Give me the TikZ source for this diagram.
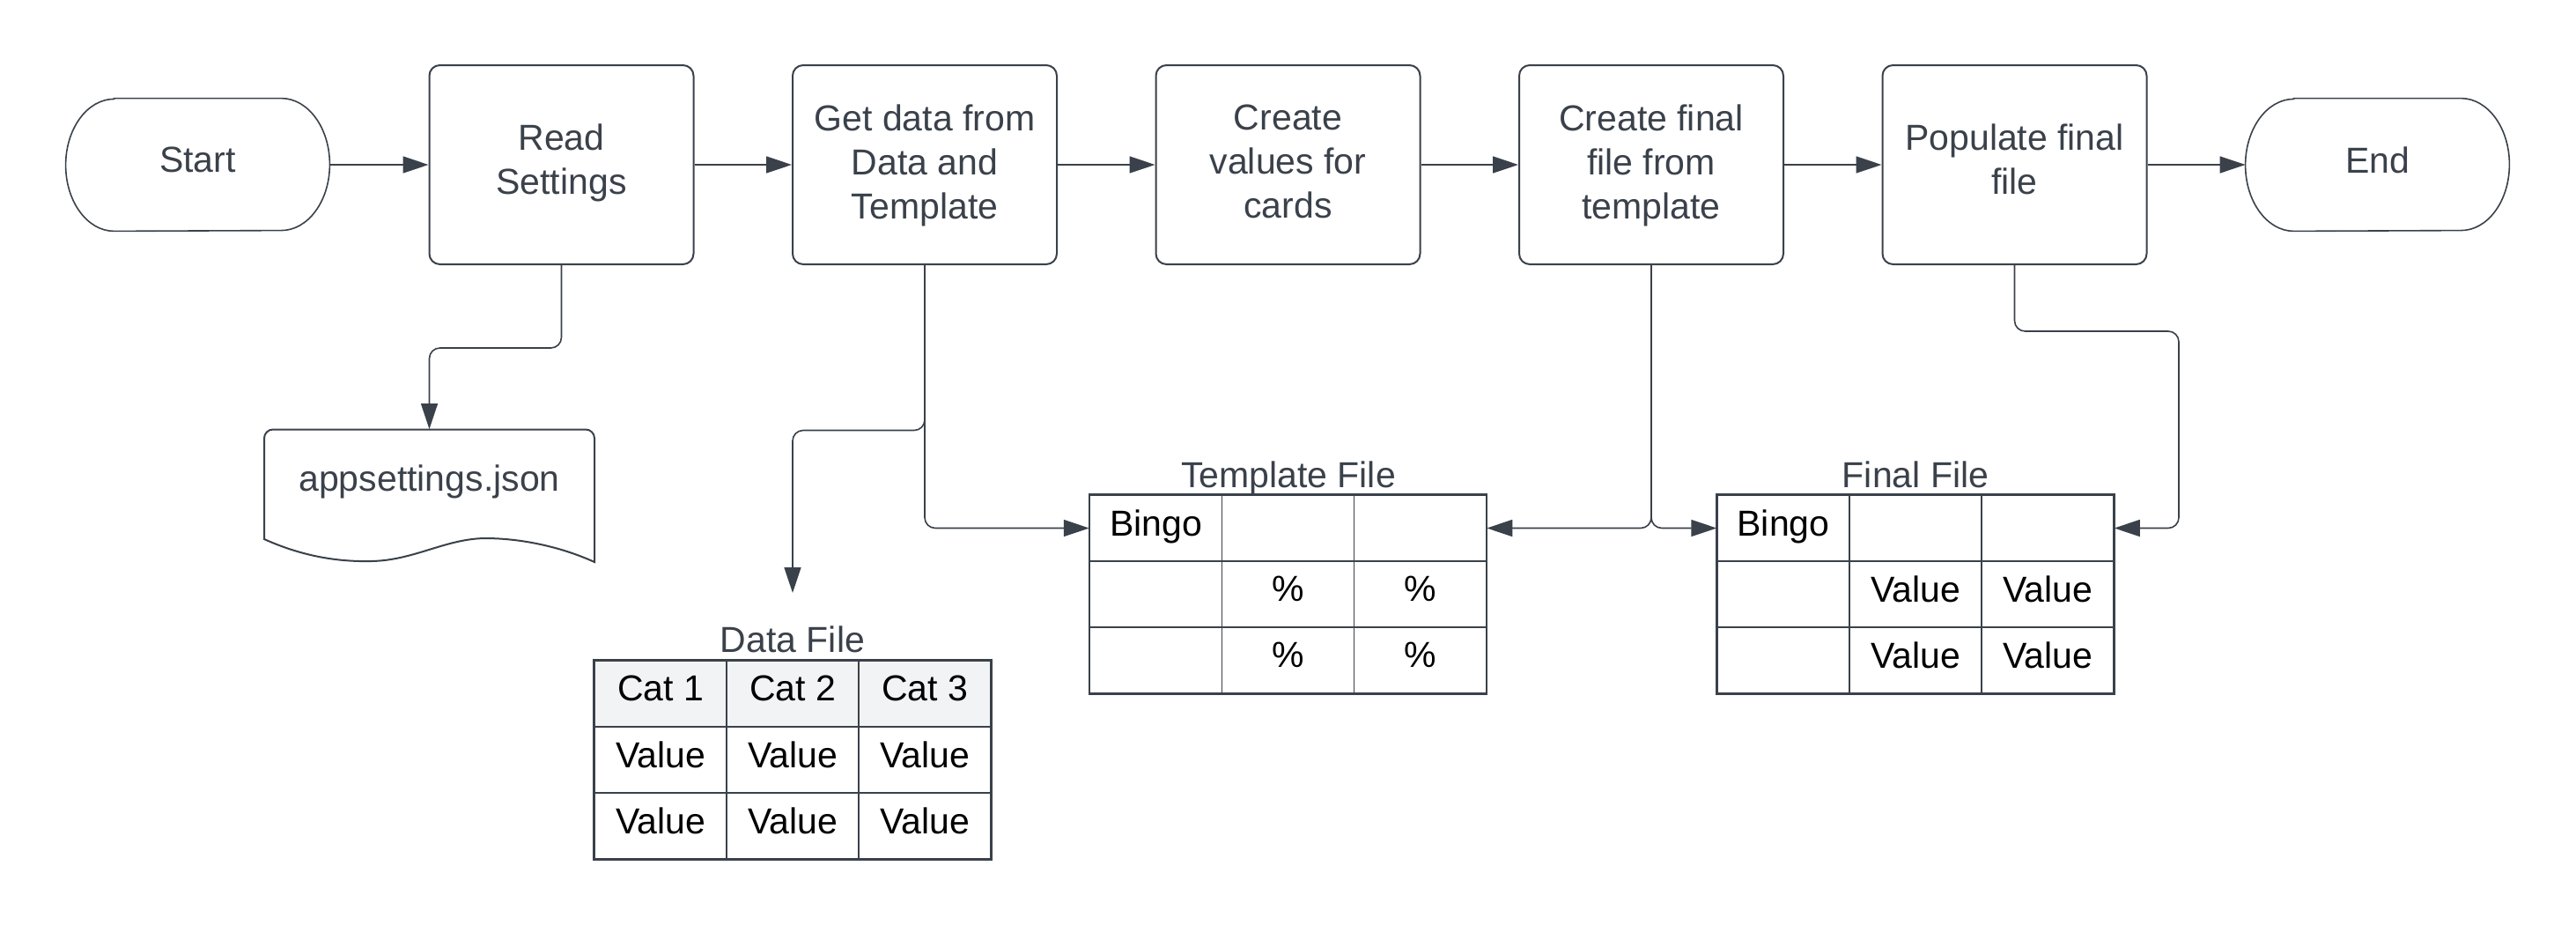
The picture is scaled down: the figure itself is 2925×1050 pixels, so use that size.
\documentclass[tikz,border=0pt]{standalone}
\usepackage{fontspec}
\setmainfont{Liberation Sans}
\usetikzlibrary{arrows.meta}
\definecolor{ink}{HTML}{3A414A}
\definecolor{hdr}{HTML}{F2F3F5}
\newcommand\termpath[1]{%
  \draw[draw=ink, line width=0.8pt] ([xshift=27.5pt]#1.north west) -- ([xshift=-27.5pt]#1.north east)
    arc[start angle=90,end angle=-90,x radius=27.5pt,y radius=37.5pt]
    -- ([xshift=27.5pt]#1.south west)
    arc[start angle=270,end angle=90,x radius=27.5pt,y radius=37.5pt] -- cycle;}
\begin{document}
\begin{tikzpicture}[x=0.5pt,y=-0.5pt,
  font=\fontsize{20.5pt}{25pt}\selectfont,
  proc/.style={draw=ink, line width=1pt, rounded corners=6pt, minimum width=150pt,
    minimum height=113pt, text=ink, align=center, inner sep=0pt},
  twoline/.style={text depth=6.5pt},
  threeline/.style={text depth=3.7pt},
  term/.style={minimum width=149.5pt, minimum height=75pt, text=ink, inner sep=0pt, text depth=5.5pt},
  cell/.style={draw=ink, line width=0.75pt, minimum width=75pt, minimum height=37.5pt,
    inner sep=0pt, text=black, text depth=6pt},
  hcell/.style={cell, fill=hdr},
  lbl/.style={text=ink, inner sep=0pt, anchor=base},
  conn/.style={draw=ink, line width=0.8pt, rounded corners=6pt,
    -{Triangle[length=14.5pt,width=9.5pt]}},
  border/.style={draw=ink, line width=1pt}
]
\fill[white] (0,0) rectangle (2925,1050);
\useasboundingbox (0,0) rectangle (2925,1050);

% terminals
\node[term] (start) at (224.5,187) {Start};
\node[term] (end) at (2699.5,187) {End};
\termpath{start}
\termpath{end}

% process boxes
\node[proc, twoline] (read) at (637.5,187) {Read\\Settings};
\node[proc, threeline] (get) at (1050,187) {Get data from\\Data and\\Template};
\node[proc, threeline] (cv) at (1462.5,187) {Create\\values for\\cards};
\node[proc, threeline] (cf) at (1875,187) {Create final\\file from\\template};
\node[proc, twoline] (pop) at (2287.5,187) {Populate final\\file};

% document shape
\node[minimum width=187.5pt, minimum height=75pt, inner sep=0pt] (app) at (487.5,562.5) {};
\draw[draw=ink, line width=1pt] (300,612) [rounded corners=5pt] -- (300,487.5) -- (675,487.5) [sharp corners] -- (675,638)
  .. controls (640,622) and (595,611) .. (550,611)
  .. controls (505,612) and (470,636) .. (422,637)
  .. controls (380,638) and (340,630) .. (300,612) -- cycle;
\node[lbl] (apptxt) at (487.5,557) {appsettings.json};

% data table
\node[lbl] (dlab) at (900,740) {Data File};
\node[hcell] (d11) at (750,787.5) {Cat 1};
\node[hcell] (d12) at (900,787.5) {Cat 2};
\node[hcell] (d13) at (1050,787.5) {Cat 3};
\node[cell] (d21) at (750,862.5) {Value};
\node[cell] (d22) at (900,862.5) {Value};
\node[cell] (d23) at (1050,862.5) {Value};
\node[cell] (d31) at (750,937.5) {Value};
\node[cell] (d32) at (900,937.5) {Value};
\node[cell] (d33) at (1050,937.5) {Value};
\draw[border] (d11.north west) rectangle (d33.south east);

% template table
\node[lbl] (tlab) at (1463,553) {Template File};
\node[cell] (t11) at (1312.5,599.5) {Bingo};
\node[cell] (t12) at (1462.5,599.5) {};
\node[cell] (t13) at (1612.5,599.5) {};
\node[cell] (t21) at (1312.5,674.5) {};
\node[cell] (t22) at (1462.5,674.5) {\%};
\node[cell] (t23) at (1612.5,674.5) {\%};
\node[cell] (t31) at (1312.5,749.5) {};
\node[cell] (t32) at (1462.5,749.5) {\%};
\node[cell] (t33) at (1612.5,749.5) {\%};
\draw[border] (t11.north west) rectangle (t33.south east);

% final table
\node[lbl] (flab) at (2175,553) {Final File};
\node[cell] (f11) at (2025,599.5) {Bingo};
\node[cell] (f12) at (2175,599.5) {};
\node[cell] (f13) at (2325,599.5) {};
\node[cell] (f21) at (2025,674.5) {};
\node[cell] (f22) at (2175,674.5) {Value};
\node[cell] (f23) at (2325,674.5) {Value};
\node[cell] (f31) at (2025,749.5) {};
\node[cell] (f32) at (2175,749.5) {Value};
\node[cell] (f33) at (2325,749.5) {Value};
\draw[border] (f11.north west) rectangle (f33.south east);

% main flow
\draw[conn] (start.east) -- (read.west);
\draw[conn] (read.east) -- (get.west);
\draw[conn] (get.east) -- (cv.west);
\draw[conn] (cv.east) -- (cf.west);
\draw[conn] (cf.east) -- (pop.west);
\draw[conn] (pop.east) -- (end.west);

% branches
\coordinate (dtip) at (900,673);
\draw[conn] (read.south) -- ++(0,94) -| (app.north);
\draw[conn] (get.south) -- ++(0,187.5) -| (dtip);
\draw[conn] (get.south) |- (t11.west);
\draw[conn] (cf.south) |- (t13.east);
\draw[conn] (cf.south) |- (f11.west);
\draw[conn] (pop.south) -- ++(0,75) -- ++(186.5,0) |- (f13.east);
\end{tikzpicture}
\end{document}
